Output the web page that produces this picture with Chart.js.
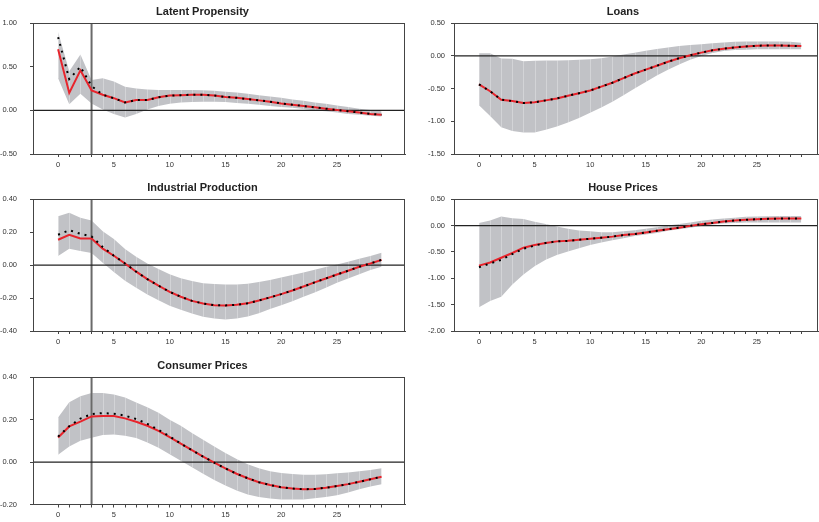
<!DOCTYPE html>
<html>
<head>
<meta charset="utf-8">
<title>Impulse responses</title>
<script src="https://cdn.jsdelivr.net/npm/chart.js@4.4.1/dist/chart.umd.min.js"></script>
<style>
    body { margin: 0; background: #fff; width: 819px; height: 522px; overflow: hidden; position: relative; }
    .panel { position: absolute; }
</style>
</head>
<body>
<div class="panel" style="left:0px;top:0px"><canvas id="c1" width="410" height="172"></canvas></div>
<div class="panel" style="left:428px;top:0px"><canvas id="c2" width="391" height="172"></canvas></div>
<div class="panel" style="left:0px;top:176px"><canvas id="c3" width="410" height="173"></canvas></div>
<div class="panel" style="left:428px;top:176px"><canvas id="c4" width="391" height="173"></canvas></div>
<div class="panel" style="left:0px;top:354px"><canvas id="c5" width="410" height="168"></canvas></div>
<script>
// Horizon (x axis)
const horizon = [0,1,2,3,4,5,6,7,8,9,10,11,12,13,14,15,16,17,18,19,20,21,22,23,24,25,26,27,28,29];
const xLabels = [0, 5, 10, 15, 20, 25];

// Latent Propensity
const lpMid = [0.70,0.20,0.46,0.23,0.18,0.14,0.09,0.12,0.12,0.15,0.17,0.175,0.18,0.18,0.17,0.155,0.145,0.13,0.115,0.10,0.08,0.065,0.05,0.035,0.02,0.005,-0.01,-0.025,-0.04,-0.05];
const lpDot = [0.84,0.36,0.50,0.28,0.18,0.14,0.09,0.12,0.12,0.15,0.17,0.175,0.18,0.18,0.17,0.155,0.145,0.13,0.115,0.10,0.08,0.065,0.05,0.035,0.02,0.005,-0.01,-0.025,-0.04,-0.05];
const lpUp  = [0.90,0.45,0.64,0.35,0.37,0.33,0.27,0.25,0.24,0.235,0.235,0.235,0.235,0.23,0.225,0.215,0.205,0.19,0.175,0.16,0.145,0.125,0.11,0.09,0.075,0.055,0.04,0.02,0.005,-0.01];
const lpLo  = [0.37,0.07,0.19,0.08,0.01,-0.04,-0.08,-0.04,0.01,0.05,0.075,0.09,0.095,0.10,0.10,0.095,0.085,0.075,0.065,0.05,0.04,0.03,0.015,0.0,-0.01,-0.025,-0.04,-0.05,-0.06,-0.07];

// Loans
const lnMid = [-0.435,-0.54,-0.67,-0.69,-0.72,-0.71,-0.68,-0.65,-0.61,-0.57,-0.53,-0.47,-0.41,-0.34,-0.27,-0.21,-0.15,-0.09,-0.035,0.01,0.05,0.085,0.11,0.13,0.145,0.155,0.16,0.16,0.155,0.15];
const lnDot = [-0.435,-0.54,-0.67,-0.69,-0.72,-0.71,-0.68,-0.65,-0.61,-0.57,-0.53,-0.47,-0.41,-0.34,-0.27,-0.21,-0.15,-0.09,-0.035,0.01,0.05,0.085,0.11,0.13,0.145,0.155,0.16,0.16,0.155,0.15];
const lnUp  = [0.04,0.04,-0.04,-0.045,-0.08,-0.075,-0.07,-0.07,-0.065,-0.06,-0.05,-0.035,-0.01,0.02,0.05,0.08,0.105,0.13,0.15,0.165,0.18,0.195,0.205,0.215,0.22,0.22,0.22,0.22,0.215,0.20];
const lnLo  = [-0.755,-0.92,-1.09,-1.15,-1.17,-1.17,-1.13,-1.08,-1.02,-0.95,-0.87,-0.79,-0.70,-0.60,-0.50,-0.40,-0.30,-0.21,-0.13,-0.06,0.0,0.045,0.075,0.09,0.095,0.10,0.10,0.10,0.10,0.10];

// Industrial Production
const ipMid = [0.154,0.184,0.162,0.162,0.10,0.057,0.01,-0.04,-0.085,-0.125,-0.162,-0.192,-0.217,-0.233,-0.243,-0.245,-0.241,-0.231,-0.215,-0.196,-0.176,-0.154,-0.13,-0.105,-0.081,-0.057,-0.034,-0.01,0.01,0.032];
const ipDot = [0.184,0.212,0.19,0.174,0.11,0.057,0.01,-0.04,-0.085,-0.125,-0.162,-0.192,-0.217,-0.233,-0.243,-0.245,-0.241,-0.231,-0.215,-0.196,-0.176,-0.154,-0.13,-0.105,-0.081,-0.057,-0.034,-0.01,0.01,0.032];
const ipUp  = [0.297,0.317,0.287,0.27,0.206,0.158,0.097,0.05,0.01,-0.024,-0.055,-0.08,-0.097,-0.11,-0.115,-0.117,-0.117,-0.113,-0.103,-0.09,-0.075,-0.06,-0.045,-0.028,-0.012,0.004,0.02,0.038,0.055,0.075];
const ipLo  = [0.055,0.099,0.085,0.073,0.014,-0.042,-0.095,-0.138,-0.178,-0.213,-0.247,-0.271,-0.294,-0.314,-0.324,-0.33,-0.324,-0.312,-0.292,-0.267,-0.243,-0.219,-0.192,-0.166,-0.138,-0.107,-0.081,-0.055,-0.03,-0.01];

// House Prices
const hpMid = [-0.76,-0.70,-0.61,-0.52,-0.42,-0.37,-0.33,-0.30,-0.29,-0.27,-0.25,-0.23,-0.21,-0.18,-0.16,-0.13,-0.10,-0.07,-0.04,-0.006,0.025,0.05,0.076,0.095,0.108,0.12,0.127,0.133,0.133,0.133];
const hpDot = [-0.79,-0.72,-0.65,-0.54,-0.44,-0.38,-0.33,-0.30,-0.29,-0.27,-0.25,-0.23,-0.21,-0.18,-0.16,-0.13,-0.10,-0.07,-0.04,-0.006,0.025,0.05,0.076,0.095,0.108,0.12,0.127,0.133,0.133,0.133];
const hpUp  = [0.05,0.094,0.17,0.14,0.125,0.07,0.03,-0.02,-0.06,-0.095,-0.11,-0.125,-0.125,-0.11,-0.09,-0.06,-0.03,0.0,0.03,0.06,0.09,0.115,0.135,0.15,0.165,0.17,0.175,0.18,0.18,0.18];
const hpLo  = [-1.55,-1.43,-1.35,-1.12,-0.93,-0.77,-0.65,-0.56,-0.49,-0.43,-0.37,-0.32,-0.28,-0.24,-0.20,-0.17,-0.14,-0.10,-0.07,-0.04,-0.006,0.02,0.04,0.05,0.057,0.057,0.06,0.06,0.06,0.06];

// Consumer Prices
const cpMid = [0.116,0.168,0.191,0.215,0.217,0.217,0.206,0.19,0.171,0.147,0.118,0.087,0.056,0.026,-0.003,-0.03,-0.055,-0.076,-0.095,-0.108,-0.119,-0.125,-0.128,-0.127,-0.121,-0.113,-0.104,-0.093,-0.081,-0.069];
const cpDot = [0.12,0.169,0.205,0.226,0.231,0.228,0.219,0.203,0.18,0.152,0.121,0.087,0.056,0.026,-0.003,-0.03,-0.055,-0.076,-0.095,-0.108,-0.119,-0.125,-0.128,-0.127,-0.121,-0.113,-0.104,-0.093,-0.081,-0.069];
const cpUp  = [0.21,0.282,0.31,0.325,0.325,0.318,0.304,0.281,0.258,0.232,0.20,0.171,0.137,0.105,0.073,0.043,0.014,-0.01,-0.029,-0.043,-0.052,-0.056,-0.06,-0.06,-0.058,-0.053,-0.049,-0.043,-0.037,-0.029];
const cpLo  = [0.035,0.073,0.10,0.115,0.127,0.13,0.124,0.113,0.092,0.067,0.037,0.006,-0.024,-0.055,-0.085,-0.111,-0.134,-0.153,-0.165,-0.172,-0.176,-0.176,-0.176,-0.171,-0.165,-0.156,-0.144,-0.128,-0.115,-0.104];

Chart.defaults.font.family = "'Liberation Sans', Arial, Helvetica, sans-serif";
Chart.defaults.color = '#333';

// Turns a series into {x, y} points on the horizon
function pts(arr) {
    return horizon.map((h, i) => ({ x: h, y: arr[i] }));
}

// Frame around the plot area
const frameBox = {
    id: 'frameBox',
    afterDraw(chart) {
        const a = chart.chartArea;
        const ctx = chart.ctx;
        ctx.save();
        ctx.strokeStyle = '#444';
        ctx.lineWidth = 1;
        ctx.strokeRect(Math.round(a.left) + 0.5, Math.round(a.top) + 0.5, Math.round(a.right - a.left) - 1, Math.round(a.bottom - a.top));
        ctx.restore();
    }
};

// Light vertical stripes inside the confidence band
const bandStripes = {
    id: 'bandStripes',
    afterDatasetDraw(chart, args) {
        const ds = chart.data.datasets[args.index];
        if (ds.label !== 'upper') return;
        const lower = chart.data.datasets[args.index + 1].data;
        const xs = chart.scales.x, ys = chart.scales.y;
        const ctx = chart.ctx;
        ctx.save();
        ctx.strokeStyle = 'rgba(255,255,255,0.3)';
        ctx.lineWidth = 1;
        ds.data.forEach((p, i) => {
            const px = Math.round(xs.getPixelForValue(p.x)) + 0.5;
            ctx.beginPath();
            ctx.moveTo(px, ys.getPixelForValue(p.y));
            ctx.lineTo(px, ys.getPixelForValue(lower[i].y));
            ctx.stroke();
        });
        ctx.restore();
    }
};

// Function to build one panel
function makePanel(id, title, mid, dot, up, lo, yMin, yMax, yStep, opts) {
    const datasets = [
        { label: 'dots', data: pts(dot), borderColor: '#000', borderWidth: 2, borderDash: [2, 5], pointRadius: 0, order: 1 },
        { label: 'median', data: pts(mid), borderColor: '#e8242c', borderWidth: 2, pointRadius: 0, order: 2 },
        { label: 'zero', data: [{ x: opts.xMin, y: 0 }, { x: opts.xMax, y: 0 }], borderColor: '#222', borderWidth: 1.2, pointRadius: 0, order: 3 },
        { label: 'upper', data: pts(up), borderWidth: 0, borderColor: 'rgba(0,0,0,0)', backgroundColor: '#c1c2c6', fill: '+1', pointRadius: 0, order: 5 },
        { label: 'lower', data: pts(lo), borderWidth: 0, borderColor: 'rgba(0,0,0,0)', pointRadius: 0, order: 6 }
    ];
    if (opts.shockLine) {
        datasets.push({ label: 'shock', data: [{ x: 3, y: yMin }, { x: 3, y: yMax }], borderColor: '#6a6a6a', borderWidth: 2, pointRadius: 0, order: 3 });
    }

    new Chart(document.getElementById(id), {
        type: 'line',
        data: { datasets: datasets },
        options: {
            responsive: false,
            animation: false,
            devicePixelRatio: 1,
            layout: { padding: { left: 0, right: opts.padRight, top: 0, bottom: 0 } },
            plugins: {
                legend: { display: false },
                tooltip: { enabled: false },
                title: {
                    display: true,
                    text: title,
                    color: '#222',
                    font: { size: 11, weight: 'bold' },
                    padding: { top: 5, bottom: 5 }
                }
            },
            scales: {
                x: {
                    type: 'linear',
                    min: opts.xMin,
                    max: opts.xMax,
                    afterBuildTicks: scale => { scale.ticks = horizon.map(v => ({ value: v })); },
                    afterFit: scale => { scale.height = opts.xHeight; },
                    grid: { drawOnChartArea: false, tickLength: 3, color: '#444' },
                    border: { color: '#444' },
                    ticks: {
                        autoSkip: false,
                        maxRotation: 0,
                        padding: 3,
                        font: { size: 7.5 },
                        callback: v => xLabels.includes(v) ? String(v) : ''
                    }
                },
                y: {
                    min: yMin,
                    max: yMax,
                    afterFit: scale => { scale.width = opts.yWidth; },
                    grid: { drawOnChartArea: false, tickLength: 3, color: '#444' },
                    border: { color: '#444' },
                    ticks: {
                        stepSize: yStep,
                        padding: opts.yPad,
                        font: { size: 7.5 },
                        callback: v => (Math.abs(v) < 1e-9 ? 0 : v).toFixed(2)
                    }
                }
            }
        },
        plugins: [frameBox, bandStripes]
    });
}

const leftOpts = { xMin: -2.25, xMax: 31.1, yWidth: 33, yPad: 13, padRight: 5, xHeight: 18, shockLine: true };
const rightOpts = { xMin: -2.25, xMax: 30.5, yWidth: 26, yPad: 6, padRight: 1, xHeight: 18, shockLine: false };

makePanel('c1', 'Latent Propensity', lpMid, lpDot, lpUp, lpLo, -0.5, 1.0, 0.5, leftOpts);
makePanel('c2', 'Loans', lnMid, lnDot, lnUp, lnLo, -1.5, 0.5, 0.5, rightOpts);
makePanel('c3', 'Industrial Production', ipMid, ipDot, ipUp, ipLo, -0.4, 0.4, 0.2, leftOpts);
makePanel('c4', 'House Prices', hpMid, hpDot, hpUp, hpLo, -2.0, 0.5, 0.5, rightOpts);
makePanel('c5', 'Consumer Prices', cpMid, cpDot, cpUp, cpLo, -0.2, 0.4, 0.2, Object.assign({}, leftOpts, { xHeight: 15 }));
</script>
</body>
</html>
